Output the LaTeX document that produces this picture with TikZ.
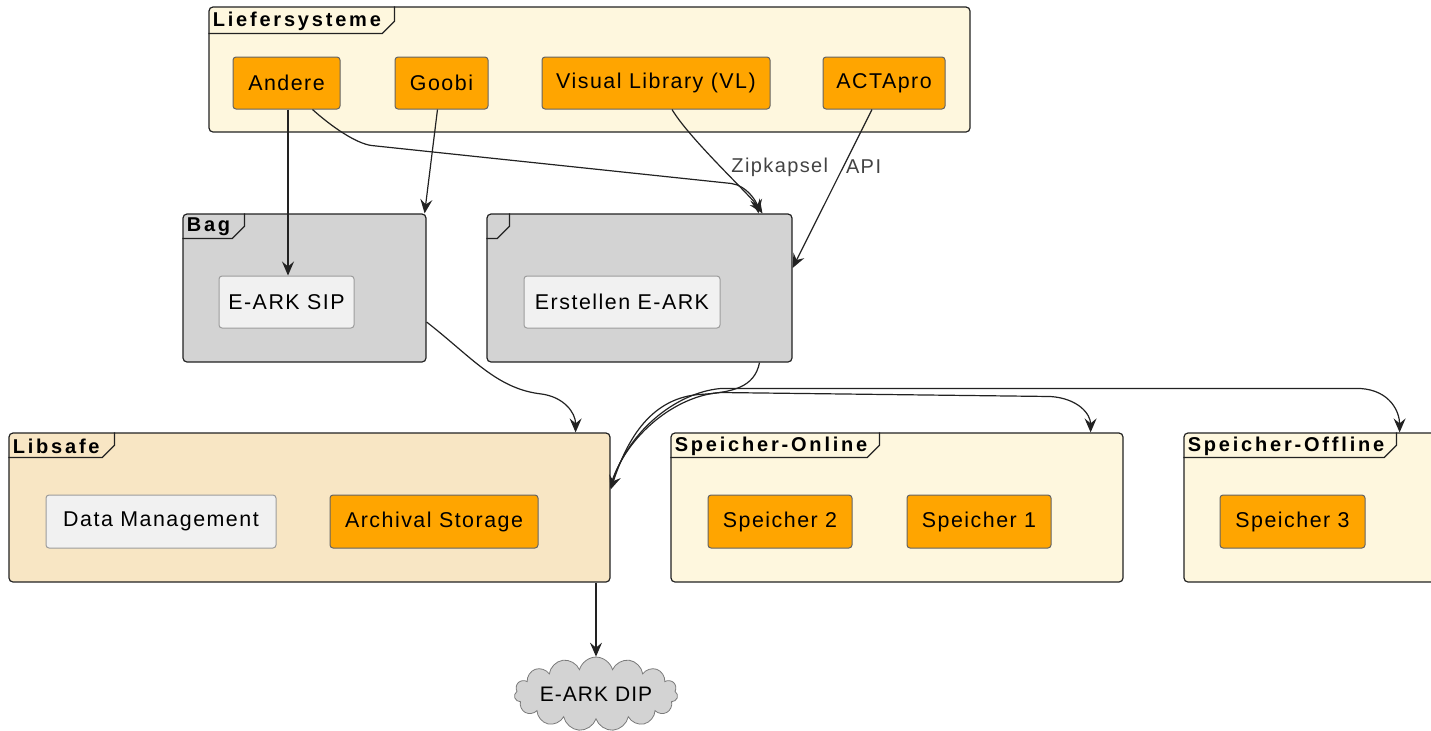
\documentclass[tikz,border=0pt]{standalone}
\usepackage{fontspec}
\setmainfont{Liberation Sans}
\usetikzlibrary{shapes.symbols,arrows.meta}
\definecolor{comporange}{HTML}{FFA500}
\definecolor{pkgyellow}{HTML}{FEF7DE}
\definecolor{pkgbeige}{HTML}{F8E6C4}
\definecolor{pkggray}{HTML}{D3D3D3}
\definecolor{complight}{HTML}{F1F1F1}
\definecolor{lineclr}{HTML}{222222}

\newcommand{\pkgtab}[4]{% node, tab width, tab height, title
  \draw[lineclr, line width=0.6pt] (#1.north west) ++(0,#3) -- ++(#2-12,0) -- ++(12,-12) -- ++(0,12-#3);
  \node[tabtext, anchor=west] at ([shift={(4,#3/2+1)}]#1.north west) {#4};
}

\begin{document}
\begin{tikzpicture}[x=0.5pt,y=-0.5pt,
  comp/.style={draw=lineclr!70, line width=0.5pt, fill=comporange, rounded corners=1.5pt,
    minimum height=26pt, inner sep=0pt, font=\fontsize{10.7}{12}\selectfont\addfontfeature{LetterSpace=7}},
  lightcomp/.style={comp, fill=complight, draw=lineclr!45},
  pkg/.style={draw=lineclr, line width=0.6pt, rounded corners=2pt, minimum height=74pt, inner sep=0pt},
  tabtext/.style={inner sep=0pt, font=\fontsize{10}{12}\selectfont\bfseries\addfontfeature{LetterSpace=14}},
  arr/.style={lineclr, line width=0.6pt, -{Stealth[length=7pt,width=6pt,inset=2.5pt]}},
  edgelabel/.style={inner sep=0pt, text=lineclr!85, font=\fontsize{10}{12}\selectfont\addfontfeature{LetterSpace=7}}]
\useasboundingbox (0,0) rectangle (1431,730);

% packages
\node[pkg, fill=pkgyellow, minimum width=380.5pt, minimum height=62.5pt] (liefer) at (589.5,69.5) {};
\node[pkg, fill=pkggray, minimum width=121.5pt] (bag) at (304.5,288) {};
\node[pkg, fill=pkggray, minimum width=152.5pt] (erstpkg) at (639.5,288) {};
\node[pkg, fill=pkgbeige, minimum width=300.5pt, minimum height=74.5pt] (libsafe) at (309.5,507.5) {};
\node[pkg, fill=pkgyellow, minimum width=226pt, minimum height=74.5pt] (online) at (897,507.5) {};
\node[pkg, fill=pkgyellow, minimum width=130.5pt, minimum height=74.5pt] (offline) at (1314.5,507.5) {};

\pkgtab{liefer}{186}{27}{Liefersysteme}
\pkgtab{bag}{62}{25}{Bag}
\pkgtab{erstpkg}{23}{25}{}
\pkgtab{libsafe}{106}{25}{Libsafe}
\pkgtab{online}{209}{25}{Speicher-Online}
\pkgtab{offline}{213}{25}{Speicher-Offline}

% components
\node[comp, minimum width=53.5pt] (andere) at (286.5,83) {Andere};
\node[comp, minimum width=46.5pt] (goobi) at (441.5,83) {Goobi};
\node[comp, minimum width=114pt] (vl) at (656,83) {Visual Library (VL)};
\node[comp, minimum width=61pt] (acta) at (884,83) {ACTApro};
\node[lightcomp, minimum width=67.5pt] (sip) at (286.5,302) {E-ARK SIP};
\node[lightcomp, minimum width=98pt] (erst) at (622,302) {Erstellen E-ARK};
\node[lightcomp, minimum width=115pt, minimum height=26.5pt] (dm) at (161,521.5) {Data Management};
\node[comp, minimum width=104pt, minimum height=26.5pt] (as) at (434,521.5) {Archival Storage};
\node[comp, minimum width=72pt, minimum height=26.5pt] (sp2) at (780,521.5) {Speicher 2};
\node[comp, minimum width=72pt, minimum height=26.5pt] (sp1) at (979,521.5) {Speicher 1};
\node[comp, minimum width=72.5pt, minimum height=26.5pt] (sp3) at (1292.5,521.5) {Speicher 3};

\node[cloud, cloud puffs=15, aspect=3.2, draw=lineclr!60, fill=pkggray, inner sep=0pt,
  minimum width=81pt, minimum height=27pt, font=\fontsize{10.5}{12}\selectfont\addfontfeature{LetterSpace=5}] (dip) at (596,694) {E-ARK DIP};

% connectors
\coordinate (pkgin) at ([xshift=60.5pt]erstpkg.north);
\draw[arr] ([xshift=0.75pt]andere.south) -- ([xshift=0.75pt]sip.north);
\draw[arr] ([xshift=-2pt]goobi.south) -- ([xshift=-1pt]bag.north east);
\draw[arr] ([xshift=13pt]andere.south) .. controls +(20,18) and +(-15,-2) .. ++(59,36)
  -- ++(360,38) .. controls +(15,2) and +(-2,-12) .. ([xshift=-1pt]pkgin);
\draw[arr] ([xshift=8pt]vl.south) .. controls +(18,30) and +(-12,-18) .. ([xshift=1pt]pkgin);
\node[edgelabel, anchor=west] (zip) at (731,167) {Zipkapsel};
\draw[arr] ([xshift=-6pt]acta.south) -- ([yshift=10pt]erstpkg.east)
  node[edgelabel, pos=0.36, anchor=west, xshift=1pt] (api) {API};
\draw[arr] ([yshift=-17pt]bag.east) .. controls +(45,35) and +(-45,-5) .. ++(115,72)
  .. controls +(22,3) and +(0,-20) .. ([xshift=-17.5pt]libsafe.north east);
\draw[arr] ([xshift=60pt]erstpkg.south) .. controls +(-5,25) and +(35,-2) .. ++(-62,32)
  .. controls +(-50,5) and +(15,-45) .. ([yshift=9pt]libsafe.east);
\draw[arr] ([yshift=11pt]libsafe.east) .. controls +(15,-50) and +(-45,3) .. ++(110,-93)
  -- ++(330,4) .. controls +(28,2) and +(0,-18) .. ([xshift=-16.5pt]online.north east);
\draw[arr] ([yshift=10pt]libsafe.east) .. controls +(15,-55) and +(-45,4) .. ++(110,-99)
  -- ++(640,0) .. controls +(30,2) and +(0,-20) .. ([xshift=-23pt]offline.north east);
\draw[arr] (dip.north |- libsafe.south) -- (dip.north);
\end{tikzpicture}
\end{document}
